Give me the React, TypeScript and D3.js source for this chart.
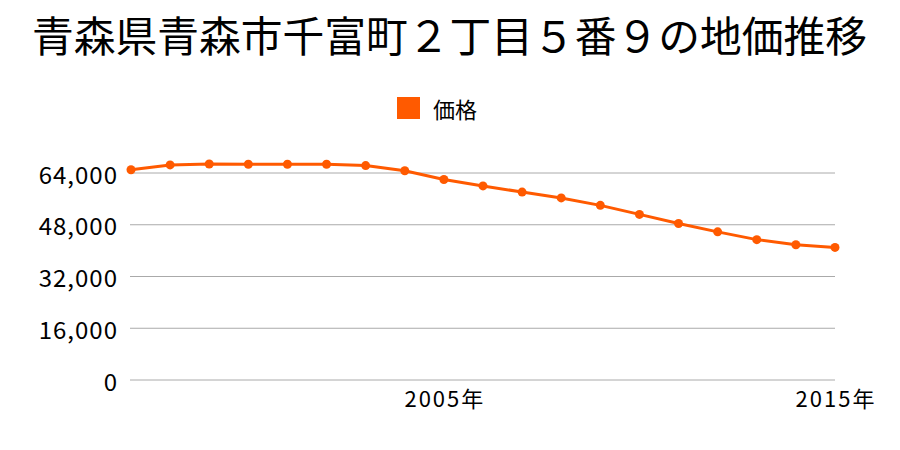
import React from "react";
import * as d3 from "d3";

const title = "青森県青森市千富町２丁目５番９の地価推移";
const seriesName = "価格";
const years = [1997, 1998, 1999, 2000, 2001, 2002, 2003, 2004, 2005, 2006, 2007, 2008, 2009, 2010, 2011, 2012, 2013, 2014, 2015];
const prices = [65000, 66500, 66800, 66700, 66700, 66700, 66300, 64700, 62000, 60000, 58100, 56300, 54000, 51200, 48400, 45800, 43400, 41800, 41000];
const yTicks = [0, 16000, 32000, 48000, 64000];
const xTickYears = [2005, 2015];

const FONT = "'Noto Sans CJK JP', 'Noto Sans', sans-serif";
const COLOR = "#ff5a00";

export default function App() {
  const x = d3.scaleLinear().domain([1997, 2015]).range([131, 835]);
  const y = d3.scaleLinear().domain([0, 64000]).range([380, 173]);
  const line = d3
    .line<number>()
    .x((_, i) => x(years[i]))
    .y((d) => y(d));
  const fmt = d3.format(",");
  return (
    <svg
      width={900}
      height={450}
      style={{ position: "absolute", left: 0, top: 0, background: "#fff" }}
      fontFamily={FONT}
    >
      <text x={449.5} y={34} textAnchor="middle" dominantBaseline="central" fontSize={41.75} fill="#000">
        {title}
      </text>
      <rect x={397} y={97} width={23} height={22} fill={COLOR} />
      <text x={433} y={108} dominantBaseline="central" fontSize={22} fill="#000">
        {seriesName}
      </text>
      {yTicks.map((t) => (
        <g key={t}>
          <line x1={130} x2={835} y1={y(t)} y2={y(t)} stroke="#aaaaaa" strokeWidth={1} />
          <text x={118} y={y(t)} textAnchor="end" dominantBaseline="central" fontSize={24} letterSpacing={1} fill="#000">
            {fmt(t)}
          </text>
        </g>
      ))}
      {xTickYears.map((yr) => (
        <text key={yr} x={x(yr) + 1} y={397} textAnchor="middle" dominantBaseline="central" fontSize={22} letterSpacing={2} fill="#000">
          {yr + "年"}
        </text>
      ))}
      <path d={line(prices) || ""} fill="none" stroke={COLOR} strokeWidth={3} />
      {prices.map((p, i) => (
        <circle key={i} cx={x(years[i])} cy={y(p)} r={4.5} fill={COLOR} />
      ))}
    </svg>
  );
}
